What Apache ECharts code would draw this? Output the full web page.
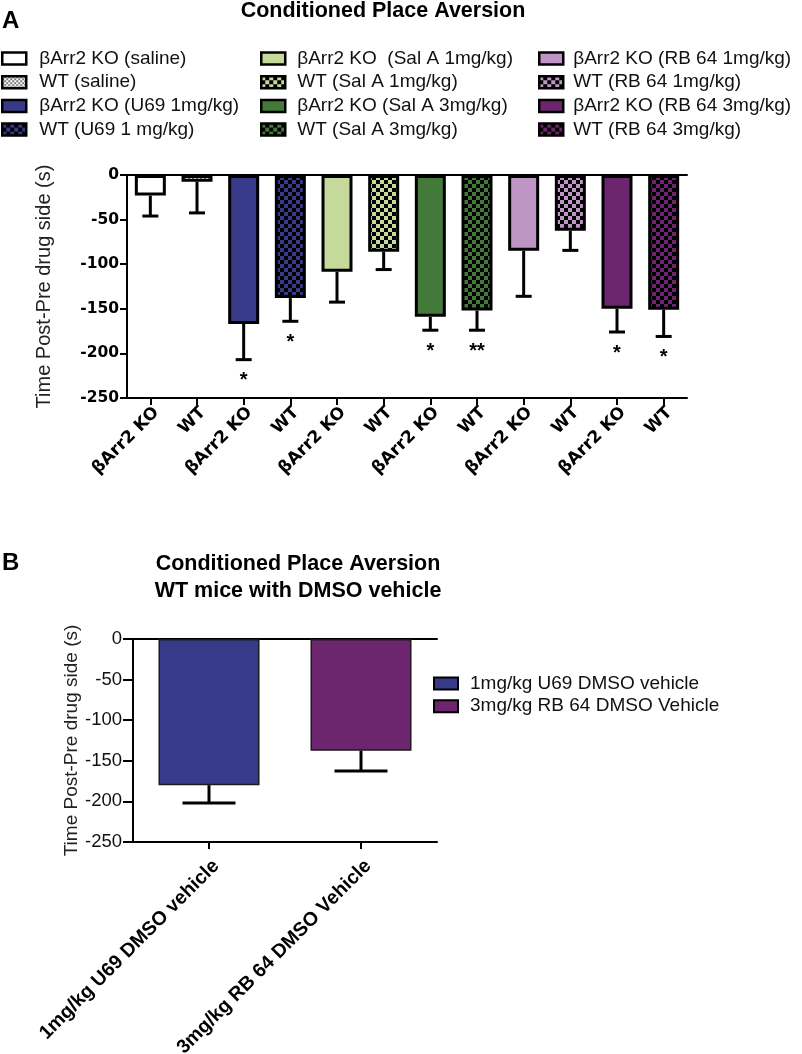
<!DOCTYPE html>
<html><head><meta charset="utf-8">
<script src="https://cdn.jsdelivr.net/npm/echarts@6/dist/echarts.min.js"></script>
<style>html,body{margin:0;padding:0;background:#fff}#c{width:802px;height:1054px}</style>
</head><body><div id="c"></div>
<script>
// ---------- Data: panel A ----------
const categoriesA = ['βArr2 KO','WT','βArr2 KO','WT','βArr2 KO','WT','βArr2 KO','WT','βArr2 KO','WT','βArr2 KO','WT'];
const seriesNamesA = ['βArr2 KO (saline)','WT (saline)','βArr2 KO (U69 1mg/kg)','WT (U69 1 mg/kg)',
  'βArr2 KO  (Sal A 1mg/kg)','WT (Sal A 1mg/kg)','βArr2 KO (Sal A 3mg/kg)','WT (Sal A 3mg/kg)',
  'βArr2 KO (RB 64 1mg/kg)','WT (RB 64 1mg/kg)','βArr2 KO (RB 64 3mg/kg)','WT (RB 64 3mg/kg)'];
const meansA = [-23, -7.5, -167, -138, -108.5, -86, -159, -152, -85, -62.5, -150, -151];
const errorsA = [23, 35, 40, 26, 34, 20, 15, 22, 51, 22, 26, 30];
const sigA = ['', '', '*', '*', '', '', '*', '**', '', '', '*', '*'];
const yTicksA = [-250, -200, -150, -100, -50, 0];

// ---------- Data: panel B ----------
const categoriesB = ['1mg/kg U69 DMSO vehicle', '3mg/kg RB 64 DMSO Vehicle'];
const seriesNamesB = ['1mg/kg U69 DMSO vehicle', '3mg/kg RB 64 DMSO Vehicle'];
const meansB = [-180, -137.5];
const errorsB = [22, 25];
const yTicksB = [-250, -200, -150, -100, -50, 0];

// ---------- Styles ----------
const baseColorsA = ['#ffffff','#ffffff','#363a88','#363a88','#c5d99a','#c5d99a','#437a39','#437a39','#bf95c5','#bf95c5','#6e2570','#6e2570'];
const patternedA = [false,true,false,true,false,true,false,true,false,true,false,true];
const colorsB = ['#363a88', '#6e2570'];

function checker(c1, c2, s) {
  const cv = document.createElement('canvas');
  cv.width = cv.height = 2 * s;
  const g = cv.getContext('2d');
  g.fillStyle = c2; g.fillRect(0, 0, 2 * s, 2 * s);
  g.fillStyle = c1; g.fillRect(0, 0, s, s); g.fillRect(s, s, s, s);
  return { image: cv, repeat: 'repeat' };
}
function fillA(i) {
  if (!patternedA[i]) return baseColorsA[i];
  if (i === 1) return checker('#ffffff', '#777777', 2);
  return checker(baseColorsA[i], '#000000', 4);
}

const chart = echarts.init(document.getElementById('c'), null, { renderer: 'canvas' });

function errRender(capW, lw) {
  return function (params, api) {
    const x = api.value(0), m = api.value(1), e = api.value(2);
    const p0 = api.coord([x, m]);
    const p1 = api.coord([x, m - e]);
    return {
      type: 'group', children: [
        { type: 'line', shape: { x1: p0[0], y1: p0[1], x2: p1[0], y2: p1[1] }, style: { stroke: '#000', lineWidth: lw } },
        { type: 'line', shape: { x1: p1[0] - capW / 2, y1: p1[1], x2: p1[0] + capW / 2, y2: p1[1] }, style: { stroke: '#000', lineWidth: lw } }
      ]
    };
  };
}
function starRender(params, api) {
  const x = api.value(0), m = api.value(1), e = api.value(2);
  const p1 = api.coord([x, m - e]);
  return {
    type: 'text', x: p1[0], y: p1[1] + 21,
    style: { text: sigA[params.dataIndex], fill: '#000', font: 'bold 20px "Liberation Sans", Arial', align: 'center', verticalAlign: 'middle' }
  };
}

const series = [];
seriesNamesA.forEach((name, i) => {
  series.push({
    name, type: 'bar', xAxisIndex: 0, yAxisIndex: 0,
    data: categoriesA.map((_, j) => j === i ? meansA[i] : '-'),
    barWidth: 31, barGap: '-100%',
    itemStyle: { color: fillA(i), borderColor: '#000', borderWidth: 3 },
    emphasis: { disabled: true }, animation: false
  });
});
series.push({
  type: 'custom', xAxisIndex: 0, yAxisIndex: 0, renderItem: errRender(16, 3),
  data: meansA.map((m, i) => [i, m, errorsA[i]]), encode: { x: 0, y: 1 }, z: 1, animation: false
});
series.push({
  type: 'custom', xAxisIndex: 0, yAxisIndex: 0, renderItem: starRender,
  data: meansA.map((m, i) => [i, m, errorsA[i]]), encode: { x: 0, y: 1 }, z: 3, animation: false
});
seriesNamesB.forEach((name, i) => {
  series.push({
    name, type: 'bar', xAxisIndex: 2, yAxisIndex: 1,
    data: categoriesB.map((_, j) => j === i ? meansB[i] : '-'),
    barWidth: 101, barGap: '-100%',
    itemStyle: { color: colorsB[i], borderColor: '#1a1a1a', borderWidth: 1.5 },
    emphasis: { disabled: true }, animation: false
  });
});
series.push({
  type: 'custom', xAxisIndex: 2, yAxisIndex: 1, renderItem: errRender(53, 3),
  data: meansB.map((m, i) => [i, m, errorsB[i]]), encode: { x: 0, y: 1 }, z: 1, animation: false
});

const legendText = { fontFamily: '"Liberation Sans", Arial', fontSize: 19, color: '#111', lineHeight: 19 };
function legendCol(left, names, top, gap, pad, bw) {
  return {
    left, top, orient: 'vertical', data: names, itemWidth: 24, itemHeight: 12, itemGap: gap,
    selectedMode: false, padding: 0, icon: 'rect',
    itemStyle: { borderColor: '#000', borderWidth: bw },
    textStyle: Object.assign({ padding: [0, 0, 0, pad] }, legendText)
  };
}

const boldTick = { fontFamily: '"DejaVu Sans"', fontWeight: 'bold', fontSize: 15.5, color: '#000' };

const option = {
  animation: false,
  backgroundColor: '#fff',
  grid: [
    { left: 127, top: 175, width: 560, height: 223, containLabel: false, outerBoundsMode: 'none' },
    { left: 133, top: 639, width: 304, height: 203, containLabel: false, outerBoundsMode: 'none' }
  ],
  legend: [
    legendCol(1, seriesNamesA.slice(0, 4), 49, 4.7, 8, 2.5),
    legendCol(260, seriesNamesA.slice(4, 8), 49, 4.7, 7, 2.5),
    legendCol(538, seriesNamesA.slice(8, 12), 49, 4.7, 5, 2.5),
    legendCol(433, seriesNamesB, 674, 3.7, 7, 2)
  ],
  xAxis: [
    { type: 'category', gridIndex: 0, position: 'bottom', data: categoriesA,
      axisLine: { show: true, onZero: false, lineStyle: { color: '#000', width: 2 } },
      axisTick: { show: true, alignWithLabel: true, length: 7, lineStyle: { color: '#000', width: 2 } },
      axisLabel: { rotate: 45, interval: 0, margin: 6, verticalAlign: 'top', fontFamily: '"DejaVu Sans"', fontWeight: 'bold', fontSize: 17, color: '#000' } },
    { type: 'category', gridIndex: 0, position: 'top', data: categoriesA,
      axisLine: { show: true, onZero: false, lineStyle: { color: '#000', width: 2 } },
      axisTick: { show: false }, axisLabel: { show: false } },
    { type: 'category', gridIndex: 1, position: 'bottom', data: categoriesB,
      axisLine: { show: true, onZero: false, lineStyle: { color: '#000', width: 2 } },
      axisTick: { show: true, alignWithLabel: true, length: 7, lineStyle: { color: '#000', width: 2 } },
      axisLabel: { rotate: 45, interval: 0, margin: 14, verticalAlign: 'top', fontFamily: '"Liberation Sans", Arial', fontWeight: 'bold', fontSize: 19.5, color: '#000' } },
    { type: 'category', gridIndex: 1, position: 'top', data: categoriesB,
      axisLine: { show: true, onZero: false, lineStyle: { color: '#000', width: 2 } },
      axisTick: { show: false }, axisLabel: { show: false } }
  ],
  yAxis: [
    { type: 'value', gridIndex: 0, min: yTicksA[0], max: yTicksA[yTicksA.length - 1], interval: 50,
      name: 'Time Post-Pre drug side (s)', nameLocation: 'middle', nameRotate: 90, nameGap: 73,
      nameTextStyle: { fontFamily: '"Liberation Sans", Arial', fontSize: 20, color: '#222' },
      axisLine: { show: true, lineStyle: { color: '#000', width: 2 } },
      axisTick: { show: true, length: 7, lineStyle: { color: '#000', width: 2 } },
      axisLabel: Object.assign({ margin: 8 }, boldTick),
      splitLine: { show: false } },
    { type: 'value', gridIndex: 1, min: yTicksB[0], max: yTicksB[yTicksB.length - 1], interval: 50,
      name: 'Time Post-Pre drug side (s)', nameLocation: 'middle', nameRotate: 90, nameGap: 52,
      nameTextStyle: { fontFamily: '"Liberation Sans", Arial', fontSize: 19, color: '#222' },
      axisLine: { show: true, lineStyle: { color: '#000', width: 2 } },
      axisTick: { show: true, length: 10, lineStyle: { color: '#000', width: 2 } },
      axisLabel: { margin: 11, fontFamily: '"Liberation Sans", Arial', fontSize: 18.5, color: '#111' },
      splitLine: { show: false } }
  ],
  graphic: [
    { type: 'text', x: 2, y: 21, style: { text: 'A', font: 'bold 24px "Liberation Sans", Arial', fill: '#000', align: 'left', verticalAlign: 'middle' } },
    { type: 'text', x: 383, y: 11, style: { text: 'Conditioned Place Aversion', font: 'bold 21.5px "Liberation Sans", Arial', fill: '#000', align: 'center', verticalAlign: 'middle' } },
    { type: 'text', x: 2, y: 563, style: { text: 'B', font: 'bold 24px "Liberation Sans", Arial', fill: '#000', align: 'left', verticalAlign: 'middle' } },
    { type: 'text', x: 298, y: 564, style: { text: 'Conditioned Place Aversion', font: 'bold 21.5px "Liberation Sans", Arial', fill: '#000', align: 'center', verticalAlign: 'middle' } },
    { type: 'text', x: 298, y: 591, style: { text: 'WT mice with DMSO vehicle', font: 'bold 21.5px "Liberation Sans", Arial', fill: '#000', align: 'center', verticalAlign: 'middle' } }
  ],
  series
};
chart.setOption(option);
</script>
</body></html>
